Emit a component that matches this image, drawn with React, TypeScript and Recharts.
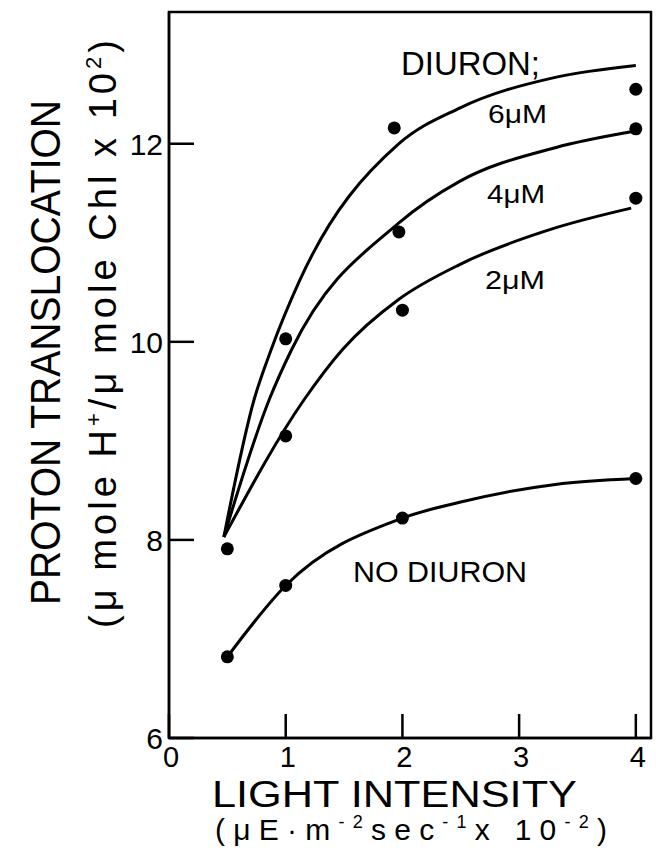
import React from "react";
import { ComposedChart, Line, Scatter, XAxis, YAxis, ReferenceArea } from "recharts";

const xTicks = [0, 1, 2, 3, 4];
const yTicks = [6, 8, 10, 12];

// fitted curves
const curve6X = [0.47, 0.73, 0.875, 1.116, 1.97, 2.49, 3.31, 4.0];
const curve6Y = [8.03, 9.42, 9.92, 10.61, 12.0, 12.36, 12.67, 12.79];
const curve4X = [0.47, 0.86, 1.05, 1.97, 2.49, 3.31, 3.96];
const curve4Y = [8.03, 9.42, 9.92, 11.2, 11.62, 11.96, 12.12];
const curve2X = [0.47, 1.16, 1.485, 1.97, 2.49, 3.31, 3.96];
const curve2Y = [8.03, 9.42, 9.92, 10.43, 10.78, 11.15, 11.35];
const curveNoX = [0.5, 1, 2, 2.49, 3.31, 4];
const curveNoY = [6.82, 7.54, 8.22, 8.38, 8.56, 8.62];

// measured points
const diuronX = [0.5, 1, 1, 1.93, 1.97, 2, 4, 4, 4];
const diuronY = [7.91, 10.03, 9.05, 12.16, 11.11, 10.32, 12.55, 12.15, 11.45];
const noDiuronX = [0.5, 1, 2, 4];
const noDiuronY = [6.82, 7.54, 8.22, 8.62];

const toPts = (xs: number[], ys: number[]) => xs.map((x, i) => ({ x, y: ys[i] }));

const FONT = "'Liberation Sans', Arial, sans-serif";

const XTick = (props: any) => {
  const { x, y, payload } = props;
  return (
    <g>
      <line x1={x} y1={y} x2={x} y2={y - 24} stroke="#000" strokeWidth={2.5} />
      <text x={x + 2} y={y + 29} textAnchor="middle" fontSize={29} fontFamily={FONT} fill="#000">
        {payload.value}
      </text>
    </g>
  );
};

const YTick = (props: any) => {
  const { x, y, payload } = props;
  return (
    <g>
      <line x1={x} y1={y} x2={x + 25} y2={y} stroke="#000" strokeWidth={2.5} />
      <text x={x - 6} y={y + 11} textAnchor="end" fontSize={30} fontFamily={FONT} fill="#000">
        {payload.value}
      </text>
    </g>
  );
};

const dotShape = (p: any) => <circle cx={p.cx} cy={p.cy} r={6.5} fill="#000" />;

export default function App() {
  return (
    <div style={{ position: "absolute", left: 0, top: 0, width: 656, height: 850, background: "#fff" }}>
      <ComposedChart width={656} height={850} margin={{ top: 12, right: 5, bottom: 0, left: 0 }}>
        <XAxis
          dataKey="x"
          type="number"
          domain={[0, 4.13]}
          ticks={xTicks}
          interval={0}
          allowDataOverflow
          height={112}
          tickSize={0}
          tickMargin={0}
          tick={XTick}
          axisLine={{ stroke: "#000", strokeWidth: 2.5 }}
        />
        <YAxis
          type="number"
          domain={[6, 13.33]}
          ticks={yTicks}
          interval={0}
          allowDataOverflow
          width={169}
          tickSize={0}
          tickMargin={0}
          tick={YTick}
          axisLine={{ stroke: "#000", strokeWidth: 2.5 }}
        />
        <ReferenceArea x1={0} x2={4.13} y1={6} y2={13.33} fill="none" stroke="#000" strokeWidth={2.5} />
        <Line data={toPts(curve6X, curve6Y)} dataKey="y" type="monotone" stroke="#000" strokeWidth={3} dot={false} isAnimationActive={false} />
        <Line data={toPts(curve4X, curve4Y)} dataKey="y" type="monotone" stroke="#000" strokeWidth={3} dot={false} isAnimationActive={false} />
        <Line data={toPts(curve2X, curve2Y)} dataKey="y" type="monotone" stroke="#000" strokeWidth={3} dot={false} isAnimationActive={false} />
        <Line data={toPts(curveNoX, curveNoY)} dataKey="y" type="monotone" stroke="#000" strokeWidth={3} dot={false} isAnimationActive={false} />
        <Scatter data={toPts(diuronX, diuronY)} dataKey="y" shape={dotShape} isAnimationActive={false} />
        <Scatter data={toPts(noDiuronX, noDiuronY)} dataKey="y" shape={dotShape} isAnimationActive={false} />
      </ComposedChart>
      <svg width={656} height={850} style={{ position: "absolute", left: 0, top: 0, pointerEvents: "none" }} fontFamily={FONT} fill="#000">
        <text x={401} y={75} fontSize={34} textLength={139} lengthAdjust="spacingAndGlyphs">DIURON;</text>
        <text x={488} y={123} fontSize={25} textLength={59} lengthAdjust="spacingAndGlyphs">6μM</text>
        <text x={487} y={203} fontSize={25} textLength={58} lengthAdjust="spacingAndGlyphs">4μM</text>
        <text x={485} y={289} fontSize={25} textLength={60} lengthAdjust="spacingAndGlyphs">2μM</text>
        <text x={353} y={582} fontSize={30} textLength={174} lengthAdjust="spacingAndGlyphs">NO DIURON</text>
        <text x={212} y={807} fontSize={37} textLength={365} lengthAdjust="spacingAndGlyphs">LIGHT INTENSITY</text>
        <text x={215} y={840} fontSize={30} textLength={392} lengthAdjust="spacing">
          (μE·m<tspan fontSize={18} dy={-12}>-2</tspan>
          <tspan dy={12}>sec</tspan>
          <tspan fontSize={18} dy={-12}>-1</tspan>
          <tspan dy={12}>x 10</tspan>
          <tspan fontSize={18} dy={-12}>-2</tspan>
          <tspan dy={12}>)</tspan>
        </text>
        <text transform="translate(60,605) rotate(-90)" x={0} y={0} fontSize={42} textLength={505} lengthAdjust="spacingAndGlyphs">PROTON TRANSLOCATION</text>
        <text transform="translate(116,628) rotate(-90)" x={0} y={0} fontSize={38} textLength={588} lengthAdjust="spacing">
          (μ mole H<tspan fontSize={22} dy={-15}>+</tspan>
          <tspan dy={15}>/μ mole Chl x 10</tspan>
          <tspan fontSize={22} dy={-15}>2</tspan>
          <tspan dy={15}>)</tspan>
        </text>
      </svg>
    </div>
  );
}
